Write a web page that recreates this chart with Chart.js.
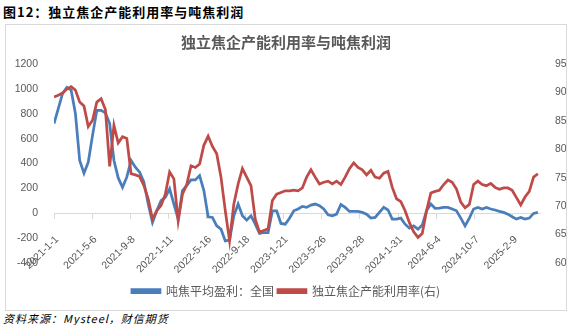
<!DOCTYPE html>
<html lang="zh-CN">
<head>
<meta charset="utf-8">
<title>独立焦企产能利用率与吨焦利润</title>
<script src="https://cdn.jsdelivr.net/npm/chart.js@4.4.1/dist/chart.umd.min.js"></script>
<style>
  html, body { margin: 0; padding: 0; background: #fff; }
  body {
    width: 577px; height: 325px; position: relative; overflow: hidden;
    font-family: "Noto Sans CJK SC", sans-serif;
  }
  #fig-title {
    position: absolute; left: 3px; top: 2px;
    font-size: 13px; font-weight: bold; color: #000; letter-spacing: 1px;
  }
  #chart-box {
    position: absolute; left: 5px; top: 24px;
    width: 560px; height: 285px; border: 1px solid #d9d9d9;
  }
  #source {
    position: absolute; left: 3px; top: 310px;
    font-size: 11px; font-style: italic; color: #000; letter-spacing: 1px;
  }
</style>
</head>
<body>
<div id="fig-title">图12：独立焦企产能利用率与吨焦利润</div>
<div id="chart-box"><canvas id="chart-coke" width="560" height="285"></canvas></div>
<div id="source">资料来源：Mysteel，财信期货</div>

<script>
'use strict';

// 数据自 2021-1-1 起，每 14 天取一个点；横轴按天计
const STEP_DAYS = 14;
const TICK_STEP_DAYS = 125;
const X_MAX_DAYS = 1589;

const tickLabels = [
  '2021-1-1', '2021-5-6', '2021-9-8', '2022-1-11', '2022-5-16',
  '2022-9-18', '2023-1-21', '2023-5-26', '2023-9-28', '2024-1-31',
  '2024-6-4', '2024-10-7', '2025-2-9'
];

// 吨焦平均盈利：全国（元/吨）
const profitValues = [
  721, 842, 963, 1012, 990, 802, 424, 322, 411, 626,
  828, 828, 807, 721, 424, 284, 208, 290, 424, 370,
  330, 249, 74, -74, 20, 101, 128, 196, 74, -47,
  182, 222, 268, 268, 303, 182, -28, -34, -101, -128,
  -222, -215, -20, 74, -20, -55, -20, -88, -163, -155,
  -155, 20, 20, -82, -88, -40, 20, 34, 55, 47,
  66, 74, 61, 34, -12, -20, -7, 70, 47, 15,
  15, 15, 7, -7, -39, -34, 7, 47, 26, -47,
  -47, -39, -88, -120, -101, -128, -95, 20, 74, 40,
  42, 47, 47, 34, 20, -39, -101, -39, 34, 47,
  34, 47, 34, 26, 15, 7, -7, -28, -47, -34,
  -47, -39, -1, 7
];

// 独立焦企产能利用率（%，右轴）
const utilRateValues = [
  89.2, 89.5, 89.9, 90.6, 91.0, 90.4, 88.3, 87.6, 84.0, 85.1,
  88.3, 88.9, 87.0, 77.0, 84.2, 81.1, 82.2, 81.9, 75.7, 75.5,
  75.2, 73.6, 71.3, 67.7, 69.2, 70.1, 72.1, 76.0, 74.8, 67.4,
  72.1, 73.8, 77.1, 76.8, 77.4, 80.7, 82.3, 80.5, 79.2, 75.1,
  69.2, 63.9, 70.4, 73.9, 76.6, 75.1, 73.6, 67.7, 65.4, 65.7,
  66.0, 71.0, 72.1, 72.4, 72.7, 72.7, 72.8, 72.7, 73.2, 75.1,
  76.4, 75.1, 73.9, 74.2, 74.4, 73.9, 74.4, 73.8, 75.1, 76.6,
  77.6, 76.8, 76.4, 75.5, 76.3, 75.1, 74.9, 75.8, 76.1, 73.3,
  71.3, 70.8, 69.2, 67.1, 65.5, 64.5, 65.2, 69.2, 72.3, 72.6,
  72.8, 73.8, 74.6, 74.2, 73.0, 70.7, 69.7, 70.3, 73.8, 74.4,
  73.8, 73.6, 74.0, 73.3, 72.95, 73.2, 73.2, 72.8, 71.5, 70.2,
  71.6, 72.6, 75.1, 75.7
];

const COLOR_PROFIT = '#4a7ebb';
const COLOR_RATE = '#be4b48';
const COLOR_TEXT = '#595959';
const COLOR_AXIS = '#d9d9d9';

function toPoints(values) {
  return values.map(function (v, i) {
    return { x: i * STEP_DAYS, y: v };
  });
}

function plainNumber(value) {
  return String(value);
}

const tickFont = { family: 'Liberation Sans', size: 10.5 };

// 红线画在蓝线上面，所以放在第一个；图例再反过来
const datasets = [
  {
    label: '独立焦企产能利用率(右)',
    data: toPoints(utilRateValues),
    yAxisID: 'y1',
    borderColor: COLOR_RATE,
    backgroundColor: COLOR_RATE,
    borderWidth: 2.75,
    pointRadius: 0,
    tension: 0
  },
  {
    label: '吨焦平均盈利：全国',
    data: toPoints(profitValues),
    yAxisID: 'y',
    borderColor: COLOR_PROFIT,
    backgroundColor: COLOR_PROFIT,
    borderWidth: 2.75,
    pointRadius: 0,
    tension: 0
  }
];

new Chart(document.getElementById('chart-coke').getContext('2d'), {
  type: 'line',
  data: { datasets: datasets },
  options: {
    responsive: false,
    animation: false,
    devicePixelRatio: 1,
    layout: { padding: { left: 0, right: 0, top: 0, bottom: 3 } },
    plugins: {
      tooltip: { enabled: false },
      title: {
        display: true,
        text: '独立焦企产能利用率与吨焦利润',
        color: COLOR_TEXT,
        font: { family: 'Noto Sans CJK SC', size: 15, weight: 'bold' },
        padding: { top: 8, bottom: 13 }
      },
      legend: {
        position: 'bottom',
        reverse: true,
        // 空标题只用来把图例和绘图区隔开
        title: { display: true, text: '', font: { size: 10 }, padding: { top: 3, bottom: 3 } },
        labels: {
          boxWidth: 28,
          boxHeight: 3,
          padding: 4,
          color: COLOR_TEXT,
          font: { family: 'Noto Sans CJK SC', size: 12 }
        }
      }
    },
    scales: {
      x: {
        type: 'linear',
        position: { y: 0 },
        min: 0,
        max: X_MAX_DAYS,
        grid: {
          display: true,
          drawOnChartArea: false,
          drawTicks: true,
          tickLength: 5,
          color: COLOR_AXIS
        },
        border: { display: true, color: COLOR_AXIS, width: 1 },
        ticks: {
          stepSize: TICK_STEP_DAYS,
          includeBounds: false,
          autoSkip: false,
          minRotation: 45,
          maxRotation: 45,
          padding: 15,
          labelOffset: 3,
          color: COLOR_TEXT,
          font: tickFont,
          callback: function (value, index) {
            return tickLabels[index];
          }
        }
      },
      y: {
        position: 'left',
        min: -400,
        max: 1200,
        grid: { display: false },
        border: { display: false },
        ticks: {
          stepSize: 200, padding: 8, color: COLOR_TEXT, font: tickFont,
          callback: plainNumber
        },
        afterFit: function (scale) { scale.width = 48; }
      },
      y1: {
        position: 'right',
        min: 60,
        max: 95,
        grid: { display: false },
        border: { display: false },
        ticks: {
          stepSize: 5, padding: 7, color: COLOR_TEXT, font: tickFont,
          callback: plainNumber
        },
        afterFit: function (scale) { scale.width = 26; }
      }
    }
  }
});
</script>
</body>
</html>
